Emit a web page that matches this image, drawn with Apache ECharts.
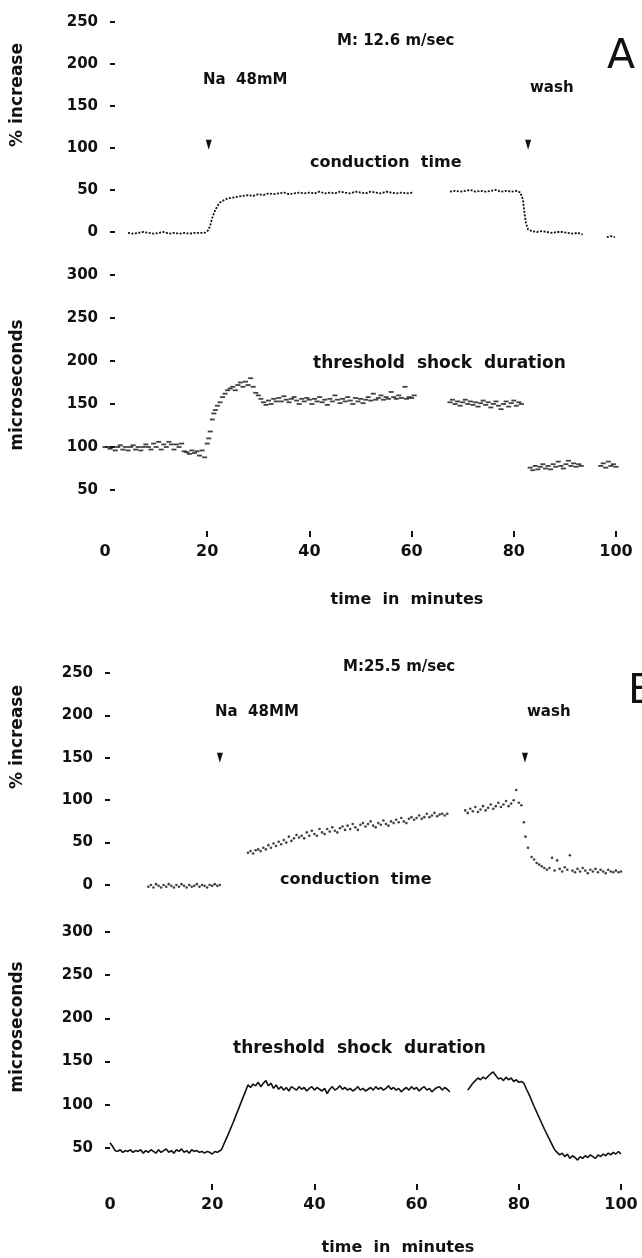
<!DOCTYPE html>
<html>
<head>
<meta charset="utf-8">
<script src="https://cdn.jsdelivr.net/npm/echarts@6/dist/echarts.min.js"></script>
<style>
  html, body { margin: 0; padding: 0; background: #fff; }
  #chart { width: 642px; height: 1258px; }
</style>
</head>
<body>
<div id="chart"></div>
<script>
// axis ticks
const timeTicks = [0, 20, 40, 60, 80, 100];
const pctTicks = [0, 50, 100, 150, 200, 250];
const usTicks = [50, 100, 150, 200, 250, 300];

// event arrows (minutes) and the level they sit at (% increase)
const arrowsA = [20.3, 82.8];
const arrowLevelA = 104;
const arrowsB = [21.5, 81.2];
const arrowLevelB = 150;

// A: conduction time, % increase  [minute, value]  (null = gap)
const condA = [
  [4.5,-1],[5.5,-2],[6.5,-1],[7.5,0],[8.5,-1],[9.5,-2],[10.5,-1],[11.5,0],[12.5,-2],[13.5,-1],
  [14.5,-2],[15.5,-1],[16.5,-2],[17.5,-1],[18.5,-1],[19.5,-1],[20.2,2],[20.6,8],[21,17],[21.5,25],
  [22,31],[22.5,35],[23,37],[24,40],[25,41],[26,42],[27,43],[28,44],[29,43],[30,45],[31,44],
  [32,46],[33,45],[34,46],[35,47],[36,45],[37,46],[38,47],[39,46],[40,47],[41,46],[42,48],
  [43,46],[44,47],[45,46],[46,48],[47,47],[48,46],[49,48],[50,47],[51,46],[52,48],[53,47],
  [54,46],[55,48],[56,47],[57,46],[58,47],[59,46],[60.3,47],[64,null],
  [67.5,48],[68.5,49],[69.5,48],[70.5,49],[71.5,50],[72.5,48],[73.5,49],[74.5,48],[75.5,49],
  [76.5,50],[77.5,48],[78.5,49],[79.5,48],[80.5,49],[81.3,47],[81.8,38],[82.1,22],[82.4,10],
  [82.8,3],[83.5,1],[84.5,0],[85.5,1],[86.5,0],[87.5,-1],[88.5,0],[89.5,0],[90.5,-1],[91.5,-2],
  [92.5,-1],[93.5,-3],[96,null],[98.2,-6],[99,-5],[99.8,-6]
];

// A: threshold shock duration, microseconds
const threshA = [
  [0,100],[0.5,100],[1,98],[1.5,100],[2,96],[2.5,100],[3,102],[3.5,97],[4,100],[4.5,96],
  [5,100],[5.5,102],[6,97],[6.5,100],[7,96],[7.5,100],[8,103],[8.5,100],[9,97],[9.5,104],
  [10,100],[10.5,106],[11,97],[11.5,103],[12,100],[12.5,106],[13,103],[13.5,97],[14,103],[14.5,100],
  [15,104],[15.5,95],[16,94],[16.5,92],[17,96],[17.5,93],[18,95],[18.5,90],[19,96],[19.5,88],
  [20,104],[20.3,110],[20.6,118],[21,132],[21.3,139],[21.6,143],[22,148],[22.5,152],[23,158],[23.5,162],
  [24,166],[24.5,168],[25,170],[25.5,166],[26,172],[26.5,175],[27,170],[27.5,176],[28,172],[28.5,180],
  [29,170],[29.5,163],[30,160],[30.5,156],[31,152],[31.5,149],[32,154],[32.5,150],[33,156],[33.5,153],
  [34,157],[34.5,153],[35,159],[35.5,155],[36,152],[36.5,156],[37,158],[37.5,154],[38,150],[38.5,156],
  [39,153],[39.5,157],[40,155],[40.5,150],[41,156],[41.5,153],[42,158],[42.5,152],[43,155],[43.5,149],
  [44,156],[44.5,153],[45,160],[45.5,155],[46,151],[46.5,156],[47,153],[47.5,158],[48,154],[48.5,150],
  [49,157],[49.5,153],[50,156],[50.5,151],[51,155],[51.5,158],[52,154],[52.5,162],[53,155],[53.5,157],
  [54,160],[54.5,155],[55,158],[55.5,156],[56,164],[56.5,158],[57,156],[57.5,160],[58,157],[58.7,170],
  [59,156],[59.5,158],[60,157],[60.5,160],
  [67.5,152],[68,155],[68.5,150],[69,153],[69.5,148],[70,152],[70.5,155],[71,150],[71.5,153],[72,149],
  [72.5,152],[73,147],[73.5,151],[74,154],[74.5,149],[75,152],[75.5,146],[76,150],[76.5,153],[77,148],
  [77.5,144],[78,150],[78.5,153],[79,147],[79.5,151],[80,154],[80.5,148],[81,152],[81.5,150],
  [83.2,76],[83.7,73],[84.2,78],[84.7,74],[85.2,77],[85.7,80],[86.2,75],[86.7,78],[87.2,74],[87.7,80],
  [88.2,77],[88.7,83],[89.2,78],[89.7,75],[90.2,80],[90.7,84],[91.2,78],[91.7,81],[92.2,77],[92.7,80],
  [93.2,78],
  [97,78],[97.5,81],[98,76],[98.5,83],[99,78],[99.5,80],[100,77]
];

// B: conduction time, % increase
const condB = [
  [7.5,-2],[8,0],[8.5,-3],[9,1],[9.5,-1],[10,-3],[10.5,0],[11,-2],[11.5,1],[12,-1],
  [12.5,-3],[13,0],[13.5,-2],[14,1],[14.5,-1],[15,-3],[15.5,0],[16,-2],[16.5,-1],[17,1],
  [17.5,-2],[18,0],[18.5,-1],[19,-3],[19.5,0],[20,-1],[20.5,1],[21,-1],[21.5,0],
  [27,38],[27.5,40],[28,37],[28.5,41],[29,42],[29.5,40],[30,44],[30.5,42],[31,47],[31.5,44],
  [32,49],[32.5,46],[33,51],[33.5,48],[34,53],[34.5,50],[35,57],[35.5,52],[36,55],[36.5,59],
  [37,56],[37.5,58],[38,55],[38.5,62],[39,58],[39.5,64],[40,60],[40.5,58],[41,66],[41.5,62],
  [42,60],[42.5,66],[43,63],[43.5,68],[44,64],[44.5,62],[45,67],[45.5,69],[46,65],[46.5,70],
  [47,66],[47.5,72],[48,68],[48.5,65],[49,71],[49.5,73],[50,69],[50.5,72],[51,75],[51.5,70],
  [52,68],[52.5,73],[53,71],[53.5,76],[54,72],[54.5,70],[55,75],[55.5,73],[56,77],[56.5,74],
  [57,79],[57.5,75],[58,73],[58.5,78],[59,80],[59.5,77],[60,79],[60.5,82],[61,78],[61.5,80],
  [62,84],[62.5,80],[63,82],[63.5,85],[64,81],[64.5,83],[65,84],[65.5,82],[66,84],
  [69.5,88],[70,85],[70.5,90],[71,87],[71.5,92],[72,86],[72.5,89],[73,93],[73.5,88],[74,91],
  [74.5,95],[75,90],[75.5,93],[76,97],[76.5,92],[77,95],[77.5,99],[78,93],[78.5,96],[79,100],
  [79.5,112],[80,97],[80.5,94],[81,74],[81.3,57],[81.8,44],[82.5,33],[83,30],[83.5,26],[84,24],
  [84.5,22],[85,20],[85.5,18],[86,20],[86.5,32],[87,17],[87.5,29],[88,19],[88.5,16],[89,21],
  [89.5,18],[90,35],[90.5,17],[91,15],[91.5,19],[92,16],[92.5,20],[93,17],[93.5,14],[94,18],
  [94.5,16],[95,19],[95.5,15],[96,18],[96.5,16],[97,14],[97.5,18],[98,16],[98.5,15],[99,17],
  [99.5,15],[100,16]
];

// B: threshold shock duration, microseconds
const threshB = [
  [0,56],[0.5,52],[1,47],[1.5,46],[2,48],[2.5,45],[3,47],[3.5,46],[4,48],[4.5,45],
  [5,47],[5.5,46],[6,48],[6.5,44],[7,47],[7.5,45],[8,48],[8.5,46],[9,44],[9.5,48],
  [10,45],[10.5,47],[11,49],[11.5,45],[12,47],[12.5,44],[13,48],[13.5,46],[14,49],[14.5,45],
  [15,47],[15.5,44],[16,48],[16.5,46],[17,47],[17.5,45],[18,46],[18.5,44],[19,46],[19.5,45],
  [20,43],[20.5,46],[21,45],[21.8,48],[22,50],[23,64],[24,78],[25,93],[26,108],[27,123],
  [27.5,120],[28,124],[28.5,122],[29,126],[29.5,121],[30,125],[30.5,128],[31,122],[31.5,125],[32,119],
  [32.5,123],[33,118],[33.5,121],[34,117],[34.5,120],[35,116],[35.5,121],[36,119],[36.5,117],[37,121],
  [37.5,118],[38,120],[38.5,116],[39,119],[39.5,121],[40,117],[40.5,120],[41,118],[41.5,116],[42,119],
  [42.5,113],[43,118],[43.5,121],[44,117],[44.5,119],[45,122],[45.5,118],[46,120],[46.5,117],[47,119],
  [47.5,116],[48,118],[48.5,121],[49,117],[49.5,119],[50,116],[50.5,118],[51,120],[51.5,117],[52,121],
  [52.5,118],[53,120],[53.5,117],[54,119],[54.5,122],[55,118],[55.5,120],[56,117],[56.5,119],[57,115],
  [57.5,118],[58,120],[58.5,117],[59,121],[59.5,118],[60,120],[60.5,116],[61,119],[61.5,121],[62,117],
  [62.5,119],[63,115],[63.5,118],[64,120],[64.5,121],[65,117],[65.5,120],[66,118],[66.5,115],[68,null],
  [70,117],[70.5,121],[71,125],[71.5,128],[72,131],[72.5,129],[73,132],[73.5,130],[74,133],[74.5,136],
  [75,138],[75.5,134],[76,130],[76.5,131],[77,128],[77.5,132],[78,129],[78.5,131],[79,127],[79.5,129],
  [80,126],[80.5,127],[81,125],[81.5,118],[82,112],[83,98],[84,85],[85,72],[86,60],[87,48],
  [87.5,45],[88,42],[88.5,44],[89,40],[89.5,43],[90,38],[90.5,41],[91,39],[91.5,36],[92,40],
  [92.5,38],[93,41],[93.5,39],[94,42],[94.5,40],[95,38],[95.5,42],[96,40],[96.5,43],[97,41],
  [97.5,44],[98,42],[98.5,45],[99,43],[99.5,46],[100,43]
];

const ink = "#111";
const FONT = "DejaVu Sans";

function gaps(arr) {
  return arr.map((p) => (p[1] === null ? [p[0], "-"] : p));
}

function xAxisFor(i, show, offset) {
  return {
    type: "value",
    gridIndex: i,
    min: timeTicks[0],
    max: timeTicks[timeTicks.length - 1],
    interval: 20,
    show: show,
    offset: offset,
    axisLine: { show: false },
    splitLine: { show: false },
    axisTick: {
      show: true,
      length: 6,
      customValues: timeTicks.slice(1),
      lineStyle: { color: ink, width: 2 },
    },
    axisLabel: {
      color: ink,
      fontFamily: FONT,
      fontWeight: "bold",
      fontSize: 16,
      margin: 13,
    },
  };
}

function yAxisFor(i, ticks, offset, inside, margin) {
  return {
    type: "value",
    gridIndex: i,
    min: ticks[0],
    max: ticks[ticks.length - 1],
    interval: 50,
    offset: offset,
    axisLine: { show: false },
    splitLine: { show: false },
    axisTick: {
      show: true,
      inside: inside,
      length: 5,
      lineStyle: { color: ink, width: 2 },
    },
    axisLabel: {
      color: ink,
      fontFamily: FONT,
      fontWeight: "bold",
      fontSize: 15,
      margin: margin,
    },
  };
}

function arrowPoints(times, level) {
  return {
    symbol: "triangle",
    symbolRotate: 180,
    symbolSize: [6, 10],
    itemStyle: { color: ink },
    label: { show: false },
    data: times.map((t) => ({ coord: [t, level] })),
  };
}

// text annotations
const notes = [
  { text: "% increase", x: 18, y: 95, size: 17, rot: true },
  { text: "microseconds", x: 18, y: 385, size: 17, rot: true },
  { text: "M: 12.6 m/sec", x: 337, y: 41, size: 15 },
  { text: "Na  48mM", x: 203, y: 80, size: 15 },
  { text: "wash", x: 530, y: 88, size: 15 },
  { text: "conduction  time", x: 310, y: 163, size: 16 },
  { text: "threshold  shock  duration", x: 313, y: 364, size: 17 },
  { text: "time  in  minutes", x: 407, y: 600, size: 16, center: true },
  { text: "A", x: 621, y: 57, size: 41, normal: true, center: true },
  { text: "% increase", x: 18, y: 737, size: 17, rot: true },
  { text: "microseconds", x: 18, y: 1027, size: 17, rot: true },
  { text: "M:25.5 m/sec", x: 343, y: 667, size: 15 },
  { text: "Na  48MM", x: 215, y: 712, size: 15 },
  { text: "wash", x: 527, y: 712, size: 15 },
  { text: "conduction  time", x: 280, y: 880, size: 16 },
  { text: "threshold  shock  duration", x: 233, y: 1049, size: 17 },
  { text: "time  in  minutes", x: 398, y: 1248, size: 16, center: true },
  { text: "B", x: 628, y: 692, size: 41, normal: true },
];

const graphic = notes.map((n) => ({
  type: "text",
  x: n.x,
  y: n.y,
  rotation: n.rot ? Math.PI / 2 : 0,
  style: {
    text: n.text,
    fill: ink,
    font: (n.normal ? "" : "bold ") + n.size + 'px "' + FONT + '"',
    textAlign: n.rot || n.center ? "center" : "left",
    textVerticalAlign: "middle",
  },
}));

const chart = echarts.init(document.getElementById("chart"));
chart.setOption({
  backgroundColor: "#fff",
  animation: false,
  grid: [
    { left: 105, width: 511, top: 22, height: 210 },
    { left: 105, width: 511, top: 275, height: 215 },
    { left: 110, width: 511, top: 673, height: 212 },
    { left: 110, width: 511, top: 932, height: 216 },
  ],
  xAxis: [
    xAxisFor(0, false, 0),
    xAxisFor(1, true, 41),
    xAxisFor(2, false, 0),
    xAxisFor(3, true, 36),
  ],
  yAxis: [
    yAxisFor(0, pctTicks, -5, true, 12),
    yAxisFor(1, usTicks, -5, true, 12),
    yAxisFor(2, pctTicks, 0, false, 17),
    yAxisFor(3, usTicks, 0, false, 17),
  ],
  graphic: graphic,
  series: [
    {
      name: "conduction time A",
      type: "line",
      xAxisIndex: 0,
      yAxisIndex: 0,
      data: gaps(condA),
      symbol: "none",
      clip: false,
      lineStyle: { color: ink, width: 1.8, type: [2, 1.5] },
      markPoint: arrowPoints(arrowsA, arrowLevelA),
    },
    {
      name: "threshold A",
      type: "scatter",
      xAxisIndex: 1,
      yAxisIndex: 1,
      data: threshA,
      symbol: "rect",
      symbolSize: [5, 1.8],
      clip: false,
      itemStyle: { color: ink },
    },
    {
      name: "conduction time B",
      type: "scatter",
      xAxisIndex: 2,
      yAxisIndex: 2,
      data: condB,
      symbolSize: 2.6,
      clip: false,
      itemStyle: { color: ink },
      markPoint: arrowPoints(arrowsB, arrowLevelB),
    },
    {
      name: "threshold B",
      type: "line",
      xAxisIndex: 3,
      yAxisIndex: 3,
      data: gaps(threshB),
      symbol: "none",
      clip: false,
      lineStyle: { color: ink, width: 1.6 },
    },
  ],
});
</script>
</body>
</html>
